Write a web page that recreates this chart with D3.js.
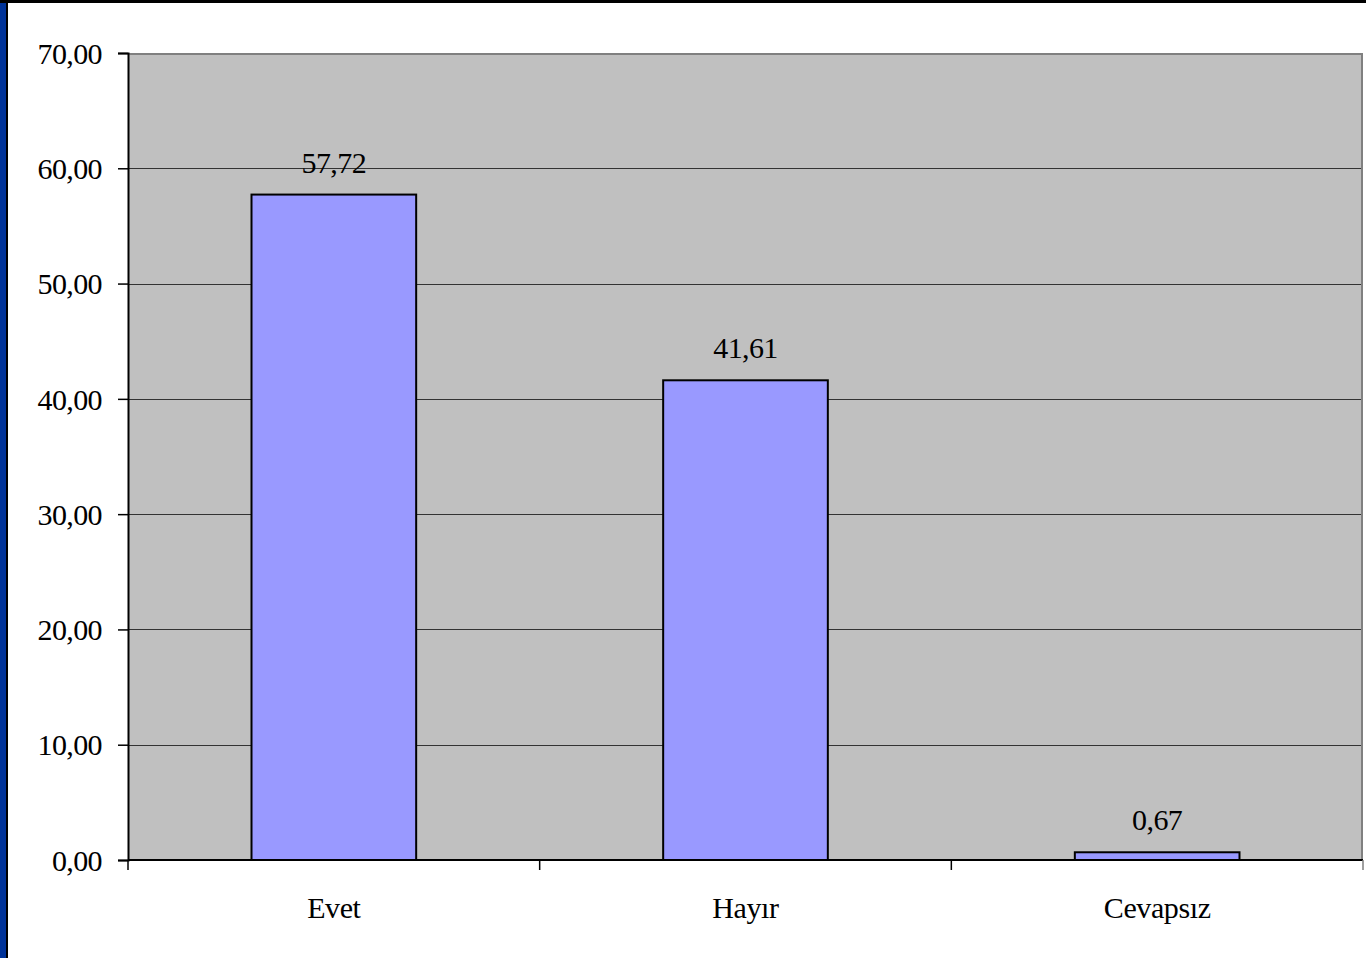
<!DOCTYPE html>
<html>
<head>
<meta charset="utf-8">
<script src="https://cdn.jsdelivr.net/npm/d3@7"></script>
<style>
  html, body { margin: 0; padding: 0; background: #ffffff; }
  svg { display: block; }
</style>
</head>
<body>
<svg id="chart" width="1366" height="958"></svg>
<script>
const categories = ["Evet", "Hayır", "Cevapsız"];
const values = [57.72, 41.61, 0.67];
const yTicks = [0, 10, 20, 30, 40, 50, 60, 70];

const W = 1366, H = 958;
const plot = { left: 128, right: 1363, top: 53, bottom: 860 };
const font = "'Liberation Serif', 'Times New Roman', serif";
const fmt = v => d3.format(".2f")(v).replace(".", ",");

const svg = d3.select("#chart");

// frame
svg.append("rect").attr("x", 0).attr("y", 0).attr("width", W).attr("height", H).attr("fill", "#ffffff");
svg.append("rect").attr("x", 0).attr("y", 0).attr("width", 7).attr("height", H).attr("fill", "#003399");
svg.append("rect").attr("x", 6).attr("y", 0).attr("width", 2).attr("height", H).attr("fill", "#000000");
svg.append("rect").attr("x", 0).attr("y", 0).attr("width", W).attr("height", 3).attr("fill", "#000000");

const x = d3.scaleBand().domain(categories).range([plot.left, plot.right]).paddingInner(0.6).paddingOuter(0.3);
const y = d3.scaleLinear().domain([0, 70]).range([plot.bottom, plot.top]);

// plot background
svg.append("rect")
  .attr("x", plot.left).attr("y", plot.top)
  .attr("width", plot.right - plot.left).attr("height", plot.bottom - plot.top)
  .attr("fill", "#c0c0c0");

// gridlines
svg.append("g").selectAll("line").data(yTicks.filter(t => t > 0 && t < 70)).join("line")
  .attr("x1", plot.left).attr("x2", plot.right)
  .attr("y1", d => Math.round(y(d)) + 0.5).attr("y2", d => Math.round(y(d)) + 0.5)
  .attr("stroke", "#333333").attr("stroke-width", 1);

// plot border top & right
svg.append("path")
  .attr("d", `M${plot.left},${plot.top + 1}H${plot.right - 1}V${plot.bottom}`)
  .attr("fill", "none").attr("stroke", "#808080").attr("stroke-width", 2);

// bars
svg.append("g").selectAll("rect").data(values).join("rect")
  .attr("x", (d, i) => x(categories[i]))
  .attr("y", d => y(d))
  .attr("width", x.bandwidth())
  .attr("height", d => y(0) - y(d))
  .attr("fill", "#9999ff").attr("stroke", "#000000").attr("stroke-width", 2);

// value labels
svg.append("g").selectAll("text").data(values).join("text")
  .attr("x", (d, i) => x(categories[i]) + x.bandwidth() / 2)
  .attr("y", d => y(d) - 22)
  .attr("text-anchor", "middle")
  .attr("font-family", font).attr("font-size", 30).attr("letter-spacing", -0.6).attr("fill", "#000")
  .text(d => fmt(d));

// y axis
const yAxis = d3.axisLeft(y).tickValues(yTicks).tickSize(10).tickPadding(16).tickFormat(fmt);
const gy = svg.append("g").attr("transform", `translate(${plot.left},0)`).call(yAxis);
gy.select(".domain").attr("stroke", "#000").attr("stroke-width", 2);
gy.selectAll(".tick line").attr("stroke", "#000").attr("stroke-width", 1.5);
gy.selectAll("text").attr("font-family", font).attr("font-size", 30).attr("letter-spacing", -0.6)
  .attr("fill", "#000").attr("dy", "0.34em");

// x axis
const xAxis = d3.axisBottom(x).tickSize(0).tickPadding(0);
const gx = svg.append("g").attr("transform", `translate(0,${plot.bottom})`).call(xAxis);
gx.select(".domain").attr("stroke", "#000").attr("stroke-width", 2).attr("d", `M${plot.left},0H${plot.right}`);
gx.selectAll(".tick text").attr("font-family", font).attr("font-size", 30).attr("letter-spacing", -0.4).attr("fill", "#000")
  .attr("y", 58).attr("dy", 0);
// category boundary ticks
const bounds = d3.range(categories.length + 1).map(i => plot.left + i * (plot.right - plot.left) / categories.length);
gx.append("g").selectAll("line").data(bounds).join("line")
  .attr("x1", d => d).attr("x2", d => d).attr("y1", 0).attr("y2", 10)
  .attr("stroke", d => d >= plot.right - 1 ? "#808080" : "#000").attr("stroke-width", 1.5);
</script>
</body>
</html>
